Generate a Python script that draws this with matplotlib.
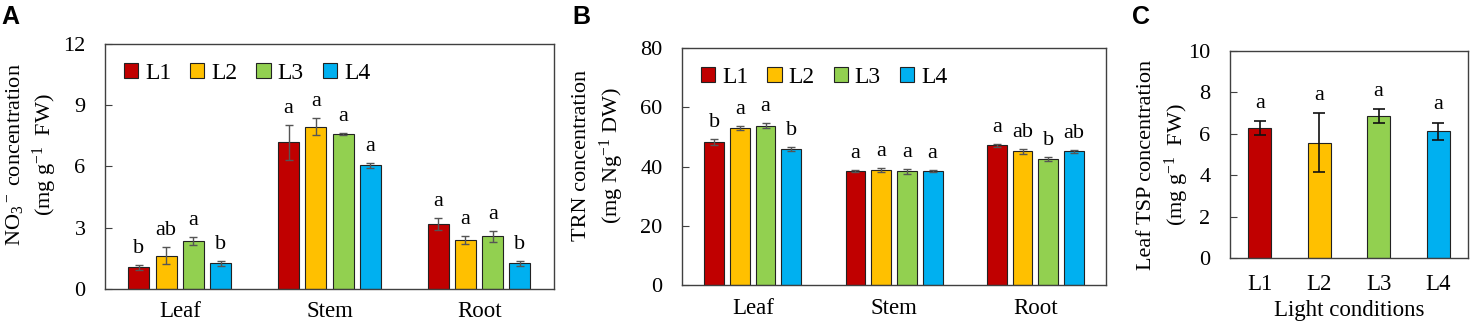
import numpy as np
import matplotlib.pyplot as plt

plt.rcParams['font.family'] = ['Liberation Serif', 'DejaVu Serif']
plt.rcParams['mathtext.fontset'] = 'custom'
plt.rcParams['mathtext.rm'] = 'Liberation Serif'
plt.rcParams['mathtext.it'] = 'Liberation Serif:italic'

levels = ['L1', 'L2', 'L3', 'L4']
colors = ['#C00000', '#FFC000', '#92D050', '#00B0F0']
organs = ['Leaf', 'Stem', 'Root']

# panel A: nitrate, rows = organ, cols = L1..L4
no3 = [[1.07, 1.62, 2.34, 1.25],
       [7.18, 7.95, 7.6, 6.05],
       [3.18, 2.4, 2.58, 1.25]]
no3_err = [[0.12, 0.42, 0.2, 0.12],
           [0.85, 0.42, 0.05, 0.1],
           [0.3, 0.18, 0.27, 0.1]]
no3_let = [['b', 'ab', 'a', 'b'],
           ['a', 'a', 'a', 'a'],
           ['a', 'a', 'a', 'b']]

# panel B: TRN
trn = [[48.4, 53.0, 53.7, 45.9],
       [38.4, 38.8, 38.4, 38.4],
       [47.1, 45.1, 42.6, 45.1]]
trn_err = [[1.0, 0.8, 0.8, 0.8],
           [0.4, 0.7, 0.9, 0.4],
           [0.6, 0.9, 0.6, 0.4]]
trn_let = [['b', 'a', 'a', 'b'],
           ['a', 'a', 'a', 'a'],
           ['a', 'ab', 'b', 'ab']]

# panel C: leaf TSP
tsp = [6.29, 5.58, 6.87, 6.12]
tsp_err = [0.34, 1.42, 0.32, 0.42]
tsp_let = ['a', 'a', 'a', 'a']

fig = plt.figure(figsize=(14.76, 3.29), dpi=100)
axA = fig.add_axes([0.0711, 0.1216, 0.3042, 0.7447])
axB = fig.add_axes([0.4621, 0.1328, 0.2873, 0.7222])
axC = fig.add_axes([0.8333, 0.2149, 0.1612, 0.6300])


def style(ax, ypad=12):
    for s in ax.spines.values():
        s.set_color('#404040')
        s.set_linewidth(1.0)
    ax.tick_params(axis='y', direction='in', length=5, labelsize=16, color='#404040', pad=ypad)
    ax.tick_params(axis='x', length=0, labelsize=16.5, pad=9)


def grouped(ax, vals, errs, lets, ymax, step, ylabel):
    vals = np.array(vals)
    errs = np.array(errs)
    x = np.arange(len(organs))
    w = 0.14
    sp = 0.182
    for j in range(4):
        xs = x + (j - 1.5) * sp
        ax.bar(xs, vals[:, j], w, color=colors[j], edgecolor='#222222', linewidth=0.8,
               yerr=errs[:, j], error_kw=dict(ecolor='#555555', elinewidth=1, capsize=3, capthick=1),
               label=levels[j], zorder=2)
        for i in range(len(organs)):
            ax.annotate(lets[i][j], (xs[i], vals[i, j] + errs[i, j]), xytext=(0, 5),
                        textcoords='offset points', ha='center', va='bottom', fontsize=16)
    ax.set_xlim(-0.5, 2.5)
    ax.set_ylim(0, ymax)
    ax.set_yticks(np.arange(0, ymax + 0.01, step))
    ax.set_xticks(x)
    ax.set_xticklabels(organs)
    ax.set_ylabel(ylabel, fontsize=16, linespacing=1.3)
    ax.legend(loc='upper left', ncol=4, frameon=False, fontsize=17, handlelength=0.6,
              handleheight=0.6, handletextpad=0.3, columnspacing=0.8, borderaxespad=0.5,
              borderpad=0.3)


grouped(axA, no3, no3_err, no3_let, 12, 3,
        'NO$_3$$^-$ concentration\n(mg g$^{-1}$  FW)')
style(axA, 14)
axA.yaxis.set_label_coords(-0.102, 0.55)
grouped(axB, trn, trn_err, trn_let, 80, 20,
        'TRN concentration\n(mg Ng$^{-1}$ DW)')
style(axB, 14)
axB.yaxis.set_label_coords(-0.133, 0.548)

xc = np.arange(4)
axC.bar(xc, tsp, 0.39, color=colors, edgecolor='#222222', linewidth=0.8,
        yerr=tsp_err, error_kw=dict(ecolor='#111111', elinewidth=1.2, capsize=4, capthick=1.2), zorder=2)
for i in range(4):
    axC.annotate(tsp_let[i], (xc[i], tsp[i] + tsp_err[i]), xytext=(0, 6),
                 textcoords='offset points', ha='center', va='bottom', fontsize=16)
axC.set_xlim(-0.5, 3.5)
axC.set_ylim(0, 10)
axC.set_yticks(np.arange(0, 11, 2))
axC.set_xticks(xc)
axC.set_xticklabels(levels)
axC.set_ylabel('Leaf TSP concentration\n(mg g$^{-1}$  FW)', fontsize=16, linespacing=1.3)
axC.yaxis.set_label_coords(-0.165, 0.45)
style(axC, 14)
axC.tick_params(axis='x', pad=11)
axC.set_xlabel('Light conditions', fontsize=16.5, labelpad=4)

for lab, xp in [('A', 0.001), ('B', 0.388), ('C', 0.767)]:
    fig.text(xp, 0.985, lab, fontsize=18, fontweight='bold', family='Liberation Sans', va='top')

fig.savefig('out.png', dpi=100)
